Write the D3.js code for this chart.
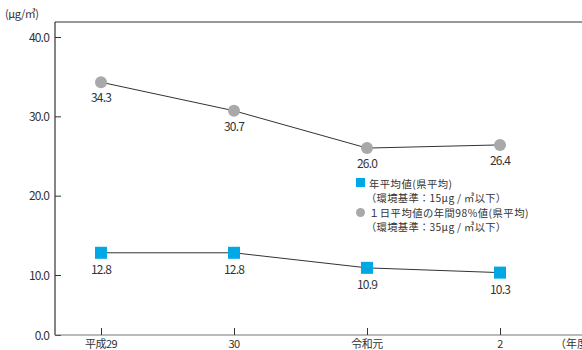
<!DOCTYPE html>
<html><head><meta charset="utf-8">
<script src="https://cdn.jsdelivr.net/npm/d3@7"></script>
<style>
body{margin:0;background:#fff;}
text{font-family:"Noto Sans CJK JP","Noto Sans",sans-serif;fill:#333;}
</style></head><body>
<svg id="c" width="582" height="350"></svg>
<script>
const categories = ["平成29", "30", "令和元", "2"];
const annualMean = [12.8, 12.8, 10.9, 10.3];
const daily98 = [34.3, 30.7, 26.0, 26.4];
const yTicks = [0, 10, 20, 30, 40];
const yUnit = "(μg/㎥)";
const xUnit = "（年度）";
const legendLabels = [
  ["年平均値(県平均)", "（環境基準：15μg / ㎥以下）"],
  ["１日平均値の年間98%値(県平均)", "（環境基準：35μg / ㎥以下）"]
];

const svg = d3.select("#c");
const y = d3.scaleLinear().domain([0, 10, 40]).range([335, 275, 37]);
const x = d3.scalePoint().domain(categories).range([101, 500]);
const axisX = 55;

// y axis
const yAxis = d3.axisRight(y).tickValues(yTicks).tickSize(6).tickFormat("");
const ga = svg.append("g").attr("transform", `translate(${axisX},0)`).call(yAxis);
ga.select(".domain").remove();
ga.selectAll("line").attr("stroke", "#333");
svg.append("line").attr("x1", axisX).attr("x2", axisX).attr("y1", 22).attr("y2", y(0)).attr("stroke", "#333").attr("stroke-width", 1.2);
svg.append("line").attr("x1", axisX).attr("x2", 582).attr("y1", 22).attr("y2", 22).attr("stroke", "#333").attr("stroke-width", 1);
svg.selectAll(".yl").data(yTicks).enter().append("text")
  .attr("x", 49).attr("y", d => y(d) + 4.5).attr("text-anchor", "end")
  .attr("font-size", 12).attr("letter-spacing", -0.8).text(d => d.toFixed(1));
svg.append("text").attr("x", 5).attr("y", 18).attr("font-size", 11).attr("letter-spacing", -0.5).text(yUnit);

// x axis
svg.append("line").attr("x1", axisX).attr("x2", 582).attr("y1", y(0)).attr("y2", y(0)).attr("stroke", "#777").attr("stroke-width", 1.2);
const xAxis = d3.axisTop(x).tickSize(7).tickFormat("");
const gx = svg.append("g").attr("transform", `translate(0,${y(0)})`).call(xAxis);
gx.select(".domain").remove();
gx.selectAll("line").attr("stroke", "#333");
svg.selectAll(".xl").data(categories).enter().append("text")
  .attr("x", d => x(d)).attr("y", 348).attr("text-anchor", "middle")
  .attr("font-size", 11).attr("letter-spacing", -0.5).text(d => d);
svg.append("text").attr("x", 555).attr("y", 348).attr("font-size", 11).text(xUnit);

// lines
const line = vals => d3.line().x((d, i) => x(categories[i])).y(d => y(d))(vals);
svg.append("path").attr("d", line(daily98)).attr("fill", "none").attr("stroke", "#333").attr("stroke-width", 1);
svg.append("path").attr("d", line(annualMean)).attr("fill", "none").attr("stroke", "#333").attr("stroke-width", 1);

// markers
svg.selectAll(".c").data(daily98).enter().append("circle")
  .attr("cx", (d, i) => x(categories[i])).attr("cy", d => y(d)).attr("r", 6).attr("fill", "#a9a9ab");
svg.selectAll(".s").data(annualMean).enter().append("rect")
  .attr("x", (d, i) => x(categories[i]) - 6).attr("y", d => y(d) - 6).attr("width", 12).attr("height", 12).attr("fill", "#00a8e6");

// value labels
svg.selectAll(".cl").data(daily98).enter().append("text")
  .attr("x", (d, i) => x(categories[i])).attr("y", d => y(d) + 20).attr("text-anchor", "middle")
  .attr("font-size", 12).attr("letter-spacing", -0.8).text(d => d.toFixed(1));
svg.selectAll(".sl").data(annualMean).enter().append("text")
  .attr("x", (d, i) => x(categories[i])).attr("y", d => y(d) + 21).attr("text-anchor", "middle")
  .attr("font-size", 12).attr("letter-spacing", -0.8).text(d => d.toFixed(1));

// legend
const lg = svg.append("g").attr("transform", "translate(356,178)");
lg.append("rect").attr("x", 0).attr("y", 0).attr("width", 9).attr("height", 9).attr("fill", "#00a8e6");
lg.append("circle").attr("cx", 4.5).attr("cy", 34.5).attr("r", 4.5).attr("fill", "#a9a9ab");
legendLabels.forEach((pair, k) => {
  lg.append("text").attr("x", 13).attr("y", 9.5 + k * 29).attr("font-size", 10.3).attr("letter-spacing", 0.5).text(pair[0]);
  lg.append("text").attr("x", 10).attr("y", 24 + k * 29).attr("font-size", 10.3).attr("letter-spacing", 0.3).text(pair[1]);
});
</script></body></html>
